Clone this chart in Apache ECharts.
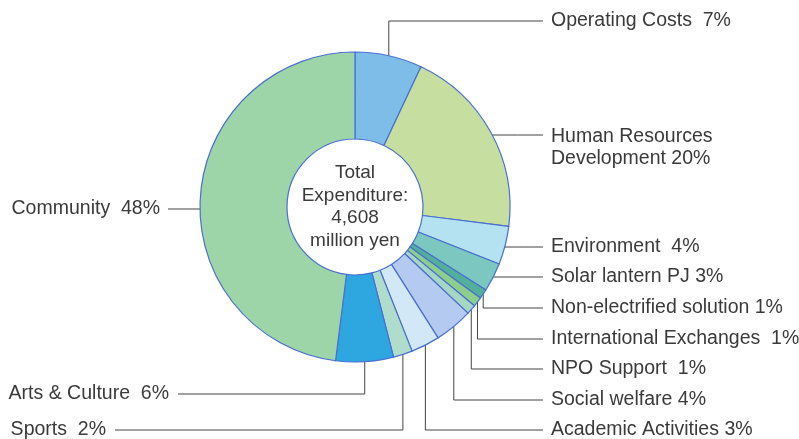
<!DOCTYPE html>
<html>
<head>
<meta charset="utf-8">
<script src="https://cdn.jsdelivr.net/npm/echarts@6/dist/echarts.min.js"></script>
<style>
html,body{margin:0;padding:0;background:#fff;}
#chart{width:799px;height:439px;}
</style>
</head>
<body>
<div id="chart"></div>
<script>
const categories = ['Operating Costs', 'Human Resources Development', 'Environment', 'Solar lantern PJ',
  'Non-electrified solution', 'International Exchanges', 'NPO Support', 'Social welfare',
  'Academic Activities', 'Sports', 'Arts & Culture', 'Community'];
const values = [7, 20, 4, 3, 1, 1, 1, 4, 3, 2, 6, 48];
const labelTexts = ['Operating Costs  7%', 'Human Resources\nDevelopment 20%', 'Environment  4%',
  'Solar lantern PJ 3%', 'Non-electrified solution 1%', 'International Exchanges  1%', 'NPO Support  1%',
  'Social welfare 4%', 'Academic Activities 3%', 'Sports  2%', 'Arts & Culture  6%', 'Community  48%'];
const centerLines = ['Total', 'Expenditure:', '4,608', 'million yen'];
const colors = ['#7ebde8', '#c6dfa0', '#b4e2f1', '#7cc7c0', '#52b09a', '#8ccf8c', '#a6d6c4',
  '#b4caf0', '#d2e8f6', '#b0dccb', '#2ea6e0', '#9dd4a8'];

const CX = 355, CY = 207, R_IN = 68, R_OUT = 155;
const RIGHT_TEXT_X = 551, RIGHT_LINE_END = 543;
// label layout: side, kind ('v' vertical-then-horizontal, 'h' horizontal), label y, line y
const layoutCfg = [
  {side: 'right', kind: 'v', y: 21},
  {side: 'right', kind: 'h', y: 148, lineY: 135},
  {side: 'right', kind: 'h', y: 247, lineY: 247},
  {side: 'right', kind: 'h', y: 277, lineY: 277},
  {side: 'right', kind: 'v', y: 308},
  {side: 'right', kind: 'v', y: 339},
  {side: 'right', kind: 'v', y: 369},
  {side: 'right', kind: 'v', y: 400},
  {side: 'right', kind: 'v', y: 430},
  {side: 'left', kind: 'v', y: 430, textX: 106, lineEnd: 115},
  {side: 'left', kind: 'v', y: 394, textX: 169, lineEnd: 178},
  {side: 'left', kind: 'h', y: 209, lineY: 209, textX: 160, lineEnd: 168}
];

const total = values.reduce((a, b) => a + b, 0);
function midAnchor(i) {
  let before = 0;
  for (let k = 0; k < i; k++) before += values[k];
  const frac = (before + values[i] / 2) / total;
  const a = frac * Math.PI * 2;
  return [CX + R_OUT * Math.sin(a), CY - R_OUT * Math.cos(a)];
}

const FONT = '"Liberation Sans", Arial, sans-serif';
const chart = echarts.init(document.getElementById('chart'), null, {renderer: 'canvas'});
chart.setOption({
  animation: false,
  backgroundColor: '#ffffff',
  series: [{
    type: 'pie',
    center: [CX, CY],
    radius: [R_IN, R_OUT],
    startAngle: 90,
    clockwise: true,
    avoidLabelOverlap: false,
    silent: true,
    itemStyle: {borderColor: '#4a6fd2', borderWidth: 1.2},
    label: {
      show: true,
      position: 'outside',
      color: '#3a3a3a',
      fontFamily: FONT,
      fontSize: 19.5,
      lineHeight: 22,
      formatter: p => labelTexts[p.dataIndex]
    },
    labelLine: {show: true, length: 5, length2: 5, lineStyle: {color: '#444', width: 1}},
    labelLayout: function (params) {
      const i = params.dataIndex;
      const c = layoutCfg[i];
      const right = c.side === 'right';
      const lineEnd = right ? RIGHT_LINE_END : c.lineEnd;
      const textX = right ? RIGHT_TEXT_X : c.textX;
      let pts;
      if (c.kind === 'h') {
        const dy = c.lineY - CY;
        const dx = Math.sqrt(Math.max(0, R_OUT * R_OUT - dy * dy));
        const ax = right ? CX + dx : CX - dx;
        pts = [[ax, c.lineY], [(ax + lineEnd) / 2, c.lineY], [lineEnd, c.lineY]];
      } else {
        const anchor = midAnchor(i);
        const ax = anchor[0], ay = anchor[1];
        pts = [[ax, ay], [ax, c.y], [lineEnd, c.y]];
      }
      return {
        x: textX,
        y: c.y,
        align: right ? 'left' : 'right',
        verticalAlign: 'middle',
        labelLinePoints: pts,
        hideOverlap: false
      };
    },
    data: categories.map((name, i) => ({
      name: name,
      value: values[i],
      itemStyle: {color: colors[i]}
    }))
  }],
  graphic: [{
    type: 'text',
    x: CX,
    y: CY,
    silent: true,
    style: {
      text: centerLines.join('\n'),
      align: 'center',
      verticalAlign: 'middle',
      fill: '#3a3a3a',
      font: '19px ' + FONT,
      lineHeight: 22.5
    }
  }]
});
</script>
</body>
</html>
